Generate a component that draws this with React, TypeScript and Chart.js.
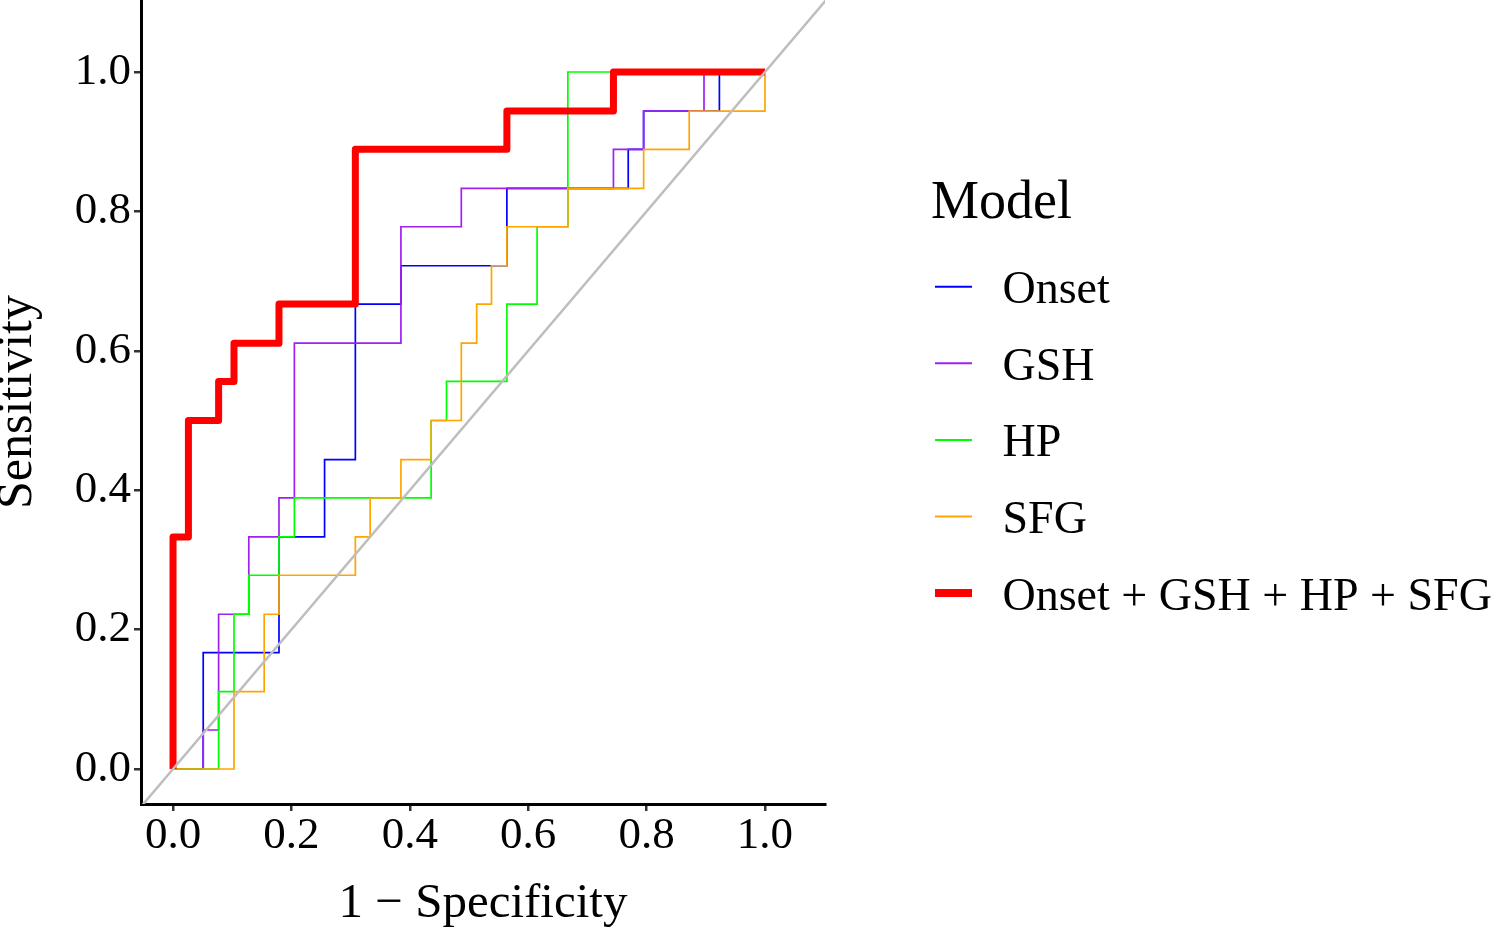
import React, { useEffect, useRef } from "react";
import { Chart, registerables } from "chart.js";

Chart.register(...registerables);

const FONT = "'Liberation Serif', 'Times New Roman', serif";

// ---------- data ----------
const modelNames = ["Onset", "GSH", "HP", "SFG", "Onset + GSH + HP + SFG"];
const modelColors = ["#0000FF", "#A020F0", "#00FF00", "#FFA500", "#FF0000"];
const legendTitle = "Model";
const xTitle = "1 \u2212 Specificity";
const yTitle = "Sensitivity";

const onsetFpr = [0, 0.051, 0.051, 0.179, 0.179, 0.256, 0.256, 0.308, 0.308, 0.385, 0.385, 0.564, 0.564, 0.769, 0.769, 0.795, 0.795, 0.923, 0.923, 1];
const onsetTpr = [0, 0, 0.167, 0.167, 0.333, 0.333, 0.444, 0.444, 0.667, 0.667, 0.722, 0.722, 0.833, 0.833, 0.889, 0.889, 0.944, 0.944, 1, 1];

const gshFpr = [0, 0.051, 0.051, 0.077, 0.077, 0.128, 0.128, 0.179, 0.179, 0.205, 0.205, 0.385, 0.385, 0.487, 0.487, 0.744, 0.744, 0.795, 0.795, 0.897, 0.897, 1];
const gshTpr = [0, 0, 0.056, 0.056, 0.222, 0.222, 0.333, 0.333, 0.389, 0.389, 0.611, 0.611, 0.778, 0.778, 0.833, 0.833, 0.889, 0.889, 0.944, 0.944, 1, 1];

const hpFpr = [0, 0.077, 0.077, 0.103, 0.103, 0.128, 0.128, 0.179, 0.179, 0.205, 0.205, 0.436, 0.436, 0.462, 0.462, 0.564, 0.564, 0.615, 0.615, 0.667, 0.667, 1];
const hpTpr = [0, 0, 0.111, 0.111, 0.222, 0.222, 0.278, 0.278, 0.333, 0.333, 0.389, 0.389, 0.5, 0.5, 0.556, 0.556, 0.667, 0.667, 0.778, 0.778, 1, 1];

const sfgFpr = [0, 0.103, 0.103, 0.154, 0.154, 0.179, 0.179, 0.308, 0.308, 0.333, 0.333, 0.385, 0.385, 0.436, 0.436, 0.487, 0.487, 0.513, 0.513, 0.538, 0.538, 0.564, 0.564, 0.667, 0.667, 0.795, 0.795, 0.872, 0.872, 1, 1];
const sfgTpr = [0, 0, 0.111, 0.111, 0.222, 0.222, 0.278, 0.278, 0.333, 0.333, 0.389, 0.389, 0.444, 0.444, 0.5, 0.5, 0.611, 0.611, 0.667, 0.667, 0.722, 0.722, 0.778, 0.778, 0.833, 0.833, 0.889, 0.889, 0.944, 0.944, 1];

const comboFpr = [0, 0, 0.026, 0.026, 0.077, 0.077, 0.103, 0.103, 0.179, 0.179, 0.308, 0.308, 0.564, 0.564, 0.744, 0.744, 1];
const comboTpr = [0, 0.333, 0.333, 0.5, 0.5, 0.556, 0.556, 0.611, 0.611, 0.667, 0.667, 0.889, 0.889, 0.944, 0.944, 1, 1];

const diagX = [-0.2, 1.3];
const diagY = [-0.2, 1.3];

const xTicks = [0, 0.2, 0.4, 0.6, 0.8, 1.0];
const yTicks = [0, 0.2, 0.4, 0.6, 0.8, 1.0];

// axis ranges
const X_MIN = -0.0541;
const X_MAX = 1.1014;
const Y_MIN = -0.0502;
const Y_MAX = 1.1033;

const legendPlugin = {
  id: "customLegend",
  afterDraw(chart: any) {
    const c = chart.ctx as CanvasRenderingContext2D;
    c.save();
    c.fillStyle = "#000";
    c.textAlign = "left";
    c.textBaseline = "alphabetic";
    c.font = `54px ${FONT}`;
    c.fillText(legendTitle, 931, 218);
    modelNames.forEach((name, i) => {
      const y = 286.7 + i * 76.6;
      c.strokeStyle = modelColors[i];
      c.lineWidth = i === 4 ? 8 : 2;
      c.lineCap = "butt";
      c.beginPath();
      c.moveTo(935, y);
      c.lineTo(972, y);
      c.stroke();
      c.font = `46px ${FONT}`;
      c.fillStyle = "#000";
      c.fillText(name, 1002.5, y + 16.5);
    });
    c.restore();
  },
};

export default function App() {
  const ref = useRef<HTMLCanvasElement>(null);

  useEffect(() => {
    if (!ref.current) return;
    const pts = (xs: number[], ys: number[]) => xs.map((x, i) => ({ x, y: ys[i] }));
    const curves = [
      pts(onsetFpr, onsetTpr),
      pts(gshFpr, gshTpr),
      pts(hpFpr, hpTpr),
      pts(sfgFpr, sfgTpr),
      pts(comboFpr, comboTpr),
    ];
    const datasets: any[] = curves.map((data, i) => ({
      label: modelNames[i],
      data,
      showLine: true,
      borderColor: modelColors[i],
      backgroundColor: modelColors[i],
      borderWidth: i === 4 ? 7 : 1.7,
      pointRadius: 0,
      pointHoverRadius: 0,
      fill: false,
      tension: 0,
      borderJoinStyle: i === 4 ? "round" : "miter",
      borderCapStyle: "butt",
      order: 5 - i,
    }));
    datasets.push({
      label: "diag",
      data: pts(diagX, diagY),
      showLine: true,
      borderColor: "#BEBEBE",
      borderWidth: 2.5,
      pointRadius: 0,
      pointHoverRadius: 0,
      fill: false,
      order: 0,
      clip: 0,
    });

    const chart = new Chart(ref.current, {
      type: "scatter",
      data: { datasets },
      options: {
        responsive: false,
        animation: false,
        devicePixelRatio: 1,
        layout: { padding: { left: 0, right: 675, top: 0, bottom: 0 } },
        plugins: {
          legend: { display: false },
          tooltip: { enabled: false },
        },
        events: [],
        scales: {
          x: {
            type: "linear",
            min: X_MIN,
            max: X_MAX,
            afterBuildTicks: (s: any) => {
              s.ticks = xTicks.map((v) => ({ value: v }));
            },
            afterFit: (s: any) => {
              s.height = 125;
              s.paddingLeft = 0;
              s.paddingRight = 0;
            },
            grid: {
              display: true,
              drawOnChartArea: false,
              drawTicks: true,
              tickLength: 7,
              color: "#333333",
              lineWidth: 2.5,
            },
            border: { display: true, color: "#000000", width: 3 },
            ticks: {
              color: "#000",
              font: { family: FONT, size: 45, lineHeight: 1 },
              padding: 3,
              maxRotation: 0,
              autoSkip: false,
              callback: (v: any) => Number(v).toFixed(1),
            },
            title: {
              display: true,
              text: xTitle,
              color: "#000",
              font: { family: FONT, size: 49, lineHeight: 1 },
              padding: { top: 0, bottom: 0 },
            },
          },
          y: {
            type: "linear",
            min: Y_MIN,
            max: Y_MAX,
            afterBuildTicks: (s: any) => {
              s.ticks = yTicks.map((v) => ({ value: v }));
            },
            afterFit: (s: any) => {
              s.width = 141;
              s.paddingTop = 0;
              s.paddingBottom = 0;
            },
            grid: {
              display: true,
              drawOnChartArea: false,
              drawTicks: true,
              tickLength: 7,
              color: "#333333",
              lineWidth: 2.5,
            },
            border: { display: true, color: "#000000", width: 3 },
            ticks: {
              color: "#000",
              font: { family: FONT, size: 45, lineHeight: 1 },
              padding: 3,
              autoSkip: false,
              callback: (v: any) => Number(v).toFixed(1),
            },
            title: {
              display: true,
              text: yTitle,
              color: "#000",
              font: { family: FONT, size: 50, lineHeight: 1 },
              padding: { top: -7, bottom: 0 },
            },
          },
        },
      },
      plugins: [legendPlugin],
    } as any);

    return () => chart.destroy();
  }, []);

  return (
    <div style={{ position: "absolute", left: 0, top: 0, width: 1500, height: 929, background: "#fff" }}>
      <canvas ref={ref} width={1500} height={929} style={{ display: "block", width: 1500, height: 929 }} />
    </div>
  );
}
